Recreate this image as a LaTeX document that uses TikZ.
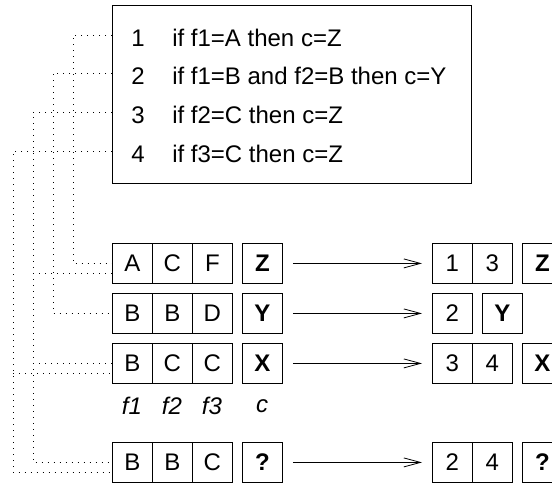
\documentclass[tikz,border=0pt]{standalone}
\usepackage{fontspec}
\setmainfont{Liberation Sans}
\usetikzlibrary{arrows.meta,calc}
\begin{document}
\begin{tikzpicture}[x=0.75pt,y=-0.75pt,
  txt/.style={font=\fontsize{18}{22}\selectfont, inner sep=0pt},
  cell/.style={draw, line width=0.6pt, minimum width=30pt, minimum height=30pt,
    inner sep=0pt, anchor=north west, font=\fontsize{18}{22}\selectfont},
  cls/.style={cell, font=\fontsize{18}{22}\selectfont\bfseries},
  lab/.style={font=\fontsize{18}{22}\selectfont\itshape, inner sep=0pt},
  dots/.style={line width=0.6pt, dash pattern=on 0.7pt off 3.8pt},
  arr/.style={line width=0.6pt, -{Straight Barb[length=12.5pt,width=6.75pt,line width=0.6pt]},
    shorten <=7.5pt, shorten >=7.5pt}
]
\useasboundingbox (0,0) rectangle (552,483);

% rule box
\node[draw, line width=0.6pt, minimum width=269.25pt, minimum height=133.5pt,
  inner sep=0pt, anchor=north west] (rules) at (112,5) {};
\node[txt] (n1) at (138,38) {1};
\node[txt, anchor=west] (r1) at (172,38) {if f1=A then c=Z};
\node[txt] (n2) at (138,76) {2};
\node[txt, anchor=west] (r2) at (172,76) {if f1=B and f2=B then c=Y};
\node[txt] (n3) at (138,115) {3};
\node[txt, anchor=west] (r3) at (172,115) {if f2=C then c=Z};
\node[txt] (n4) at (138,154) {4};
\node[txt, anchor=west] (r4) at (172,154) {if f3=C then c=Z};

% examples
\node[cell] (a1) at (112,243) {A};
\node[cell] (a2) at (152,243) {C};
\node[cell] (a3) at (192,243) {F};
\node[cls]  (ac) at (242,243) {Z};

\node[cell] (b1) at (112,293) {B};
\node[cell] (b2) at (152,293) {B};
\node[cell] (b3) at (192,293) {D};
\node[cls]  (bc) at (242,293) {Y};

\node[cell] (c1) at (112,343) {B};
\node[cell] (c2) at (152,343) {C};
\node[cell] (c3) at (192,343) {C};
\node[cls]  (cc) at (242,343) {X};

\node[lab] (l1) at (132,406) {f1};
\node[lab] (l2) at (172,406) {f2};
\node[lab] (l3) at (212,406) {f3};
\node[lab] (l4) at (262,406) {c};

\node[cell] (d1) at (112,442) {B};
\node[cell] (d2) at (152,442) {B};
\node[cell] (d3) at (192,442) {C};
\node[cls]  (dc) at (242,442) {?};

% results
\node[cell] (pa1) at (432,243) {1};
\node[cell] (pa2) at (472,243) {3};
\node[cls]  (pac) at (522,243) {Z};

\node[cell] (pb1) at (432,293) {2};
\node[cls]  (pbc) at (482,293) {Y};

\node[cell] (pc1) at (432,343) {3};
\node[cell] (pc2) at (472,343) {4};
\node[cls]  (pcc) at (522,343) {X};

\node[cell] (pd1) at (432,442) {2};
\node[cell] (pd2) at (472,442) {4};
\node[cls]  (pdc) at (522,442) {?};

% arrows
\draw[arr] (ac.east) -- (pa1.west);
\draw[arr] (bc.east) -- (pb1.west);
\draw[arr] (cc.east) -- (pc1.west);
\draw[arr] (dc.east) -- (pd1.west);

% dotted connectors
\coordinate (s1) at ($(rules.west |- n1)+(0,-3)$);
\coordinate (s2) at ($(rules.west |- n2)+(0,-3)$);
\coordinate (s3) at ($(rules.west |- n3)+(0,-3)$);
\coordinate (s4) at ($(rules.west |- n4)+(0,-3)$);
\coordinate (v1) at (73,0);
\coordinate (v2) at (53,0);
\coordinate (v3) at (33,0);
\coordinate (v4) at (13,0);
\coordinate (a1lo) at ($(a1.west)+(0,10)$);
\coordinate (c1lo) at ($(c1.west)+(0,10)$);
\coordinate (d1lo) at ($(d1.west)+(0,10)$);

\draw[dots] (s1) -| (v1 |- a1.west) -- (a1.west);
\draw[dots] (s2) -| (v2 |- b1.west) -- (b1.west);
\draw[dots] (s3) -| (v3 |- d1.west) -- (d1.west);
\draw[dots] (v3 |- a1lo) -- (a1lo);
\draw[dots] (v3 |- c1.west) -- (c1.west);
\draw[dots] (s4) -| (v4 |- d1lo) -- (d1lo);
\draw[dots] (v4 |- c1lo) -- (c1lo);
\end{tikzpicture}
\end{document}
